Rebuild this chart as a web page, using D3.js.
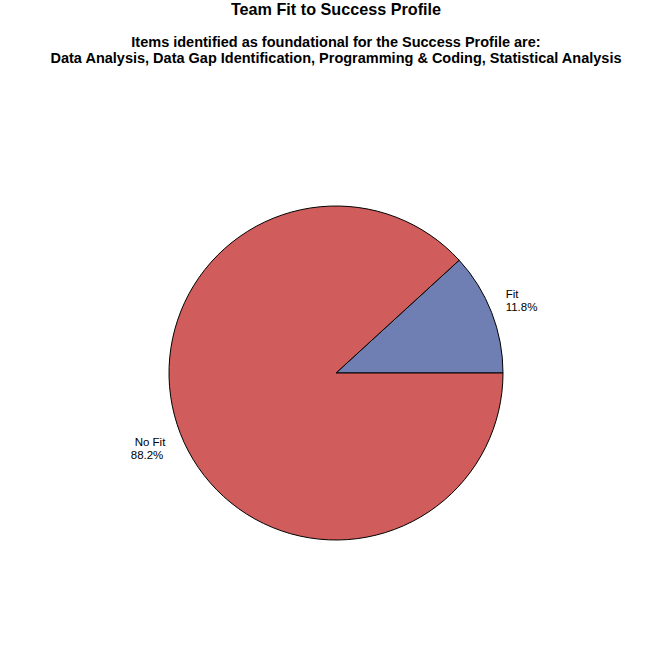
<!DOCTYPE html>
<html><head><meta charset="utf-8">
<script src="https://cdn.jsdelivr.net/npm/d3@7"></script>
<style>body{margin:0;background:#fff}svg{display:block}</style>
</head><body>
<script>
const categories = ["Fit", "No Fit"];
const values = [11.8, 88.2];
const colors = ["#6F7EB3", "#D05C5C"];
const titleText = "Team Fit to Success Profile";
const subtitleLines = ["Items identified as foundational for the Success Profile are:",
  "Data Analysis, Data Gap Identification, Programming & Coding, Statistical Analysis"];

const W = 672, H = 672;
const svg = d3.select("body").append("svg").attr("width", W).attr("height", H);
const font = "Arial, 'Liberation Sans', sans-serif";

svg.append("text").attr("x", 336).attr("y", 15).attr("text-anchor", "middle")
  .attr("font-family", font).attr("font-weight", "bold").attr("font-size", 16.2).text(titleText);
subtitleLines.forEach((t, i) => {
  svg.append("text").attr("x", 336).attr("y", 47 + i * 16).attr("text-anchor", "middle")
    .attr("font-family", font).attr("font-weight", "bold").attr("font-size", 14.5).text(t);
});

const cx = 336, cy = 373, r = 167;
const data = categories.map((c, i) => ({cat: c, value: values[i], color: colors[i]}));
// Start at 3 o'clock, going counterclockwise
const pie = d3.pie().value(d => d.value).sort(null)
  .startAngle(Math.PI / 2).endAngle(Math.PI / 2 - 2 * Math.PI);
const arcs = pie(data);
const arc = d3.arc().innerRadius(0).outerRadius(r);
const g = svg.append("g").attr("transform", `translate(${cx},${cy})`);
g.selectAll("path").data(arcs).join("path")
  .attr("d", arc).attr("fill", d => d.data.color)
  .attr("stroke", "#000").attr("stroke-width", 1);

// labels
arcs.forEach(a => {
  const mid = (a.startAngle + a.endAngle) / 2;
  const right = Math.sin(mid) > 0;
  const x = Math.sin(mid) * r * 1.09 + (right ? 0 : -1);
  const y = -Math.cos(mid) * r * 1.09;
  const anchor = right ? "start" : "end";
  const y1 = right ? y - 9.5 : y + 7.5;
  const y2 = right ? y + 3.5 : y + 20.5;
  g.append("text").attr("font-family", font).attr("font-size", 11.5)
    .attr("text-anchor", anchor).attr("x", x).attr("y", y1).text(a.data.cat);
  g.append("text").attr("font-family", font).attr("font-size", 11.5)
    .attr("text-anchor", anchor).attr("x", x - (right ? 0 : 2)).attr("y", y2).text(a.data.value.toFixed(1) + "%");
});
</script>
</body></html>
